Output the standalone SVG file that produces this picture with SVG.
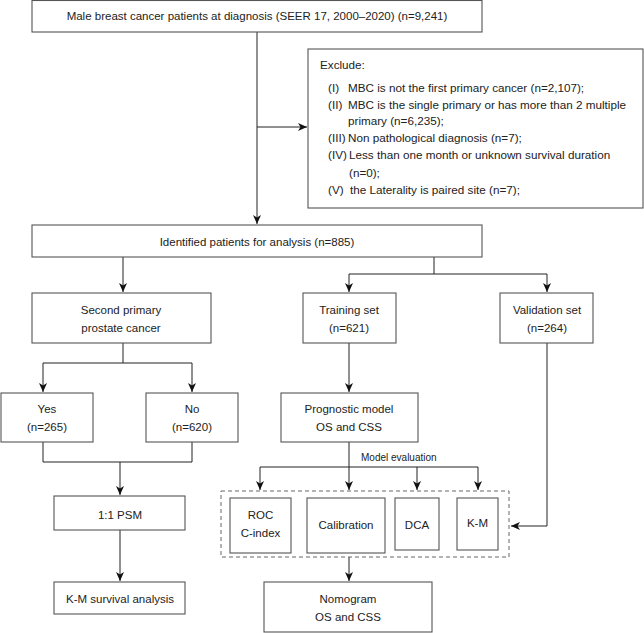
<svg xmlns="http://www.w3.org/2000/svg" width="644" height="633" viewBox="0 0 644 633">
<defs>
<marker id="arr" markerUnits="userSpaceOnUse" markerWidth="10" markerHeight="9" refX="9" refY="4.5" orient="auto">
<path d="M0,0.5 L9,4.5 L0,8.5 L2.5,4.5 z" fill="#111"/>
</marker>
<style>
.box{fill:#fff;stroke:#555;stroke-width:1.1}
.dash{fill:none;stroke:#666;stroke-width:1;stroke-dasharray:4,3}
.ln{fill:none;stroke:#222;stroke-width:1}
.t{font-family:"Liberation Sans",Arial,sans-serif;font-size:11.5px;fill:#222}
.c{text-anchor:middle}
.s{font-size:10px}
.x{font-size:11.7px}
</style>
</defs>
<rect width="644" height="633" fill="#fff"/>
<g id="connectors">
<path class="ln" d="M257,32 V224" marker-end="url(#arr)"/>
<path class="ln" d="M257,127 H307" marker-end="url(#arr)"/>
<path class="ln" d="M123,257 V292" marker-end="url(#arr)"/>
<path class="ln" d="M434,257 V274 M349,274 H547"/>
<path class="ln" d="M349,274 V292" marker-end="url(#arr)"/>
<path class="ln" d="M547,274 V292" marker-end="url(#arr)"/>
<path class="ln" d="M123,343 V363 M43,363 H192"/>
<path class="ln" d="M43,363 V392" marker-end="url(#arr)"/>
<path class="ln" d="M192,363 V392" marker-end="url(#arr)"/>
<path class="ln" d="M43,442 V462 H192 V442"/>
<path class="ln" d="M120,462 V495" marker-end="url(#arr)"/>
<path class="ln" d="M120,530 V581" marker-end="url(#arr)"/>
<path class="ln" d="M349,343 V392" marker-end="url(#arr)"/>
<path class="ln" d="M349,442 V490" marker-end="url(#arr)"/>
<path class="ln" d="M260,467 H478"/>
<path class="ln" d="M260,467 V490" marker-end="url(#arr)"/>
<path class="ln" d="M417,467 V490" marker-end="url(#arr)"/>
<path class="ln" d="M478,467 V490" marker-end="url(#arr)"/>
<path class="ln" d="M547,343 V526 H511" marker-end="url(#arr)"/>
<path class="ln" d="M349,557 V581" marker-end="url(#arr)"/>
<text class="t s" x="361" y="461">Model evaluation</text>
</g>
<g id="start">
<rect class="box" x="32" y="0.5" width="450" height="31.5"/>
<text class="t c" x="257" y="20">Male breast cancer patients at diagnosis (SEER 17, 2000–2020) (n=9,241)</text>
</g>
<g id="exclude">
<rect class="box" x="308" y="49" width="335" height="159"/>
<text class="t x" x="320" y="69">Exclude:</text>
<text class="t x" x="328" y="92">(I)</text>
<text class="t x" x="348" y="92">MBC is not the first primary cancer (n=2,107);</text>
<text class="t x" x="328" y="109">(II)</text>
<text class="t x" x="348" y="109">MBC is the single primary or has more than 2 multiple</text>
<text class="t x" x="348" y="125">primary (n=6,235);</text>
<text class="t x" x="328" y="142">(III)</text>
<text class="t x" x="348" y="142">Non pathological diagnosis (n=7);</text>
<text class="t x" x="328" y="159">(IV)</text>
<text class="t x" x="349" y="159">Less than one month or unknown survival duration</text>
<text class="t x" x="349" y="177">(n=0);</text>
<text class="t x" x="328" y="194">(V)</text>
<text class="t x" x="350" y="194">the Laterality is paired site (n=7);</text>
</g>
<g id="identified">
<rect class="box" x="32" y="225" width="450" height="32"/>
<text class="t c" x="257" y="246">Identified patients for analysis (n=885)</text>
</g>
<g id="second-primary">
<rect class="box" x="32" y="293" width="179" height="50"/>
<text class="t c" x="121" y="314">Second primary</text>
<text class="t c" x="121" y="332">prostate cancer</text>
</g>
<g id="training">
<rect class="box" x="303" y="293" width="93" height="50"/>
<text class="t c" x="349" y="314">Training set</text>
<text class="t c" x="349" y="332">(n=621)</text>
</g>
<g id="validation">
<rect class="box" x="500" y="293" width="93" height="50"/>
<text class="t c" x="547" y="314">Validation set</text>
<text class="t c" x="547" y="332">(n=264)</text>
</g>
<g id="yes">
<rect class="box" x="1" y="393" width="92" height="49"/>
<text class="t c" x="47" y="413">Yes</text>
<text class="t c" x="47" y="431">(n=265)</text>
</g>
<g id="no">
<rect class="box" x="146" y="393" width="92" height="49"/>
<text class="t c" x="192" y="413">No</text>
<text class="t c" x="192" y="431">(n=620)</text>
</g>
<g id="prognostic">
<rect class="box" x="281" y="393" width="137" height="49"/>
<text class="t c" x="349" y="413">Prognostic model</text>
<text class="t c" x="349" y="431">OS and CSS</text>
</g>
<g id="evaluation">
<rect class="dash" x="221" y="491" width="288" height="66"/>
</g>
<g id="roc">
<rect class="box" x="230" y="498" width="61" height="55"/>
<text class="t c" x="260.5" y="519">ROC</text>
<text class="t c" x="260.5" y="537">C-index</text>
</g>
<g id="calibration">
<rect class="box" x="307" y="498" width="78" height="55"/>
<text class="t c" x="346" y="529">Calibration</text>
</g>
<g id="dca">
<rect class="box" x="395" y="498" width="44" height="52"/>
<text class="t c" x="417" y="529">DCA</text>
</g>
<g id="km">
<rect class="box" x="457" y="498" width="41" height="52"/>
<text class="t c" x="477.5" y="527">K-M</text>
</g>
<g id="psm">
<rect class="box" x="54" y="496" width="131" height="34"/>
<text class="t c" x="120" y="519">1:1 PSM</text>
</g>
<g id="km-survival">
<rect class="box" x="54" y="582" width="131" height="32"/>
<text class="t c" x="120" y="603">K-M survival analysis</text>
</g>
<g id="nomogram">
<rect class="box" x="264" y="582" width="168" height="50"/>
<text class="t c" x="348" y="603">Nomogram</text>
<text class="t c" x="348" y="621">OS and CSS</text>
</g>
</svg>
